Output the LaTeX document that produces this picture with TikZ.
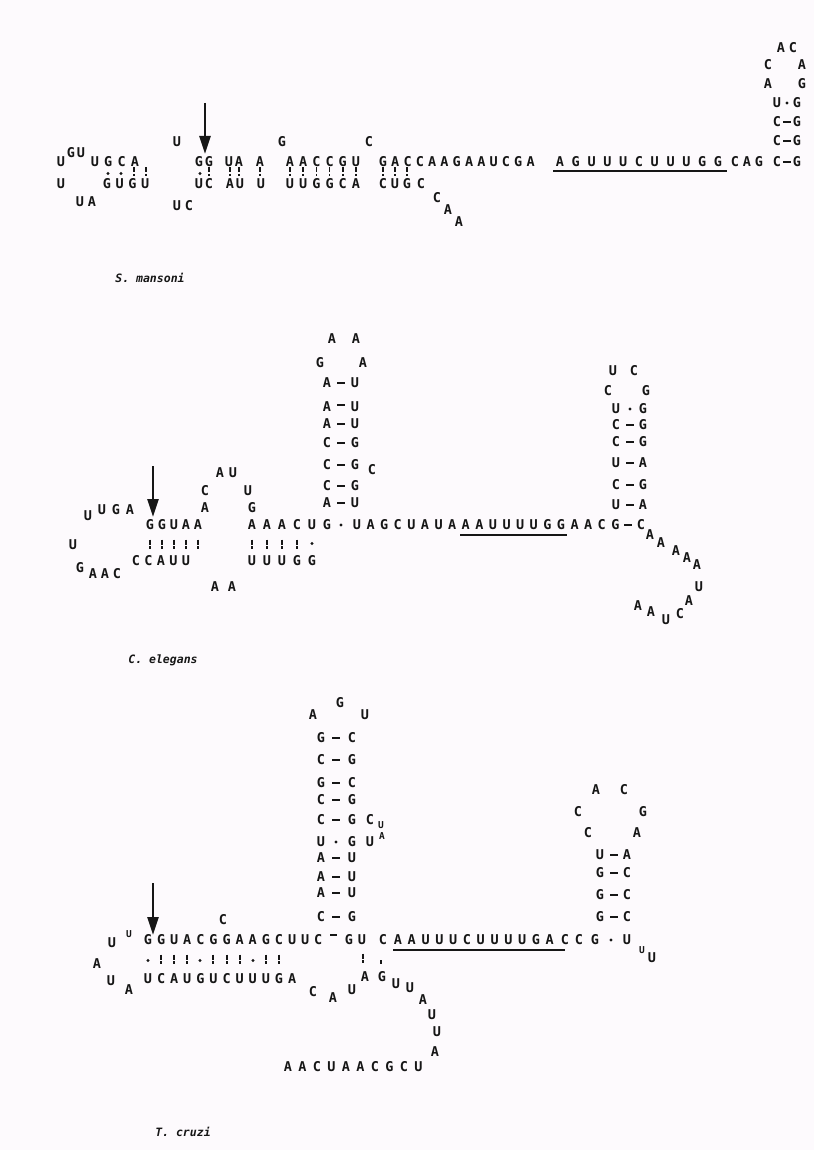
\documentclass[tikz,border=0pt]{standalone}
\usepackage{fontspec}
\newfontfamily\seqfont{DejaVu Sans Mono}
\usetikzlibrary{arrows.meta}
\definecolor{bg}{RGB}{253,250,253}
\definecolor{ink}{RGB}{22,22,22}
\newcounter{ntc}
\tikzset{
 lt/.style={font=\seqfont\bfseries\fontsize{13.5}{13.5}\selectfont, text=ink, inner sep=0pt},
 sm/.style={font=\seqfont\bfseries\fontsize{9.5}{9.5}\selectfont, text=ink, inner sep=0pt},
 lab/.style={font=\seqfont\bfseries\itshape\fontsize{11.5}{11.5}\selectfont, text=ink, inner sep=0pt},
 pairbar/.style={draw=ink, line width=1.5pt},
 pairdash/.style={draw=ink, line width=1.7pt},
 cutarrow/.style={draw=ink, line width=2.4pt, -{Triangle[length=18pt,width=11pt]}},
 uline/.style={draw=ink, line width=2pt},
}
\newcommand\nt[3]{\stepcounter{ntc}\node[lt] (b\arabic{ntc}) at (#1,#2) {#3};}
\newcommand\ns[3]{\stepcounter{ntc}\node[sm] (b\arabic{ntc}) at (#1,#2) {#3};}
\newcommand\rowat[4]{\foreach \c [count=\i from 0] in {#4} {\nt{#1+\i*#3}{#2}{\c}}}
\newcommand\pbar[2]{\draw[pairbar] (#1,#2-4.5) -- (#1,#2+0.5); \draw[pairbar] (#1,#2+2) -- (#1,#2+4.5);}
\newcommand\pdot[2]{\fill[ink] (#1,#2+1.5) circle (1.6);}
\newcommand\pdash[2]{\draw[pairdash] (#1-3.8,#2) -- (#1+3.8,#2);}
\newcommand\bars[4]{\foreach \i in {0,...,#4} {\pbar{#1+\i*#3}{#2}}}
\begin{document}
\begin{tikzpicture}[x=1pt,y=-1pt]
\fill[bg] (0,0) rectangle (814,1150);
\useasboundingbox (0,0) rectangle (814,1150);

% ================= Panel 1: S. mansoni =================
\nt{61}{162}{U} \nt{71}{153}{G} \nt{81}{153}{U}
\nt{61}{184}{U} \nt{80}{202}{U} \nt{92}{202}{A}
\rowat{95}{162}{13.3}{U,G,C,A}
\rowat{107}{184}{12.7}{G,U,G,U}
\pdot{108}{172} \pdot{121}{172} \pbar{134}{172} \pbar{146}{172}
\nt{177}{142}{U}
\nt{177}{206}{U} \nt{189}{206}{C}
\nt{199}{162}{G} \nt{209}{162}{G} \nt{229}{162}{U} \nt{239}{162}{A} \nt{260}{162}{A}
\nt{199}{184}{U} \nt{209}{184}{C} \nt{230}{184}{A} \nt{240}{184}{U} \nt{261}{184}{U}
\pdot{200}{172} \pbar{209}{172} \pbar{230}{172} \pbar{239}{172} \pbar{260}{172}
\nt{282}{142}{G}
\rowat{290}{162}{13.2}{A,A,C,C,G,U}
\rowat{290}{184}{13.2}{U,U,G,G,C,A}
\bars{290}{172}{13.2}{5}
\nt{369}{142}{C}
\rowat{383}{162}{12.3}{G,A,C,C,A,A,G,A,A,U,C,G,A}
\rowat{560}{162}{15.8}{A,G,U,U,U,C,U,U,U,G,G}
\rowat{735}{162}{12}{C,A,G}
\rowat{383}{184}{12}{C,U,G}
\nt{421}{184}{C}
\bars{383}{172}{12}{2}
\nt{437}{198}{C} \nt{448}{210}{A} \nt{459}{222}{A}
\draw[uline] (553,171) -- (727,171);
% hairpin
\nt{777}{162}{C} \pdash{787}{162} \nt{797}{162}{G}
\nt{777}{141}{C} \pdash{787}{141} \nt{797}{141}{G}
\nt{777}{122}{C} \pdash{787}{122} \nt{797}{122}{G}
\nt{777}{103}{U} \fill[ink] (787,103) circle (1.6); \nt{797}{103}{G}
\nt{768}{84}{A} \nt{802}{84}{G}
\nt{768}{65}{C} \nt{802}{65}{A}
\nt{781}{48}{A} \nt{793}{48}{C}
\coordinate (a1s) at (205,103); \coordinate (a1e) at (205,154);
\draw[cutarrow] (a1s) -- (a1e);
\node[lab] (lab1) at (150,278) {S. mansoni};

% ================= Panel 2: C. elegans =================
\coordinate (a2s) at (153,466); \coordinate (a2e) at (153,517);
\draw[cutarrow] (a2s) -- (a2e);
\nt{88}{516}{U} \nt{102}{510}{U} \nt{116}{510}{G} \nt{130}{510}{A}
\nt{73}{545}{U} \nt{80}{568}{G}
\nt{93}{574}{A} \nt{105}{574}{A} \nt{117}{574}{C}
\rowat{150}{525}{12}{G,G,U,A,A}
\rowat{136}{561}{12.5}{C,C,A,U,U}
\bars{150}{544}{12}{4}
\nt{205}{508}{A} \nt{205}{491}{C} \nt{220}{473}{A} \nt{233}{473}{U} \nt{248}{491}{U} \nt{252}{508}{G}
\rowat{252}{525}{15}{A,A,A,C,U,G}
\rowat{252}{561}{15}{U,U,U,G,G}
\bars{252}{544}{15}{3} \pdot{312}{542}
\nt{215}{587}{A} \nt{232}{587}{A}
% left hairpin
\fill[ink] (341,525) circle (1.6);
\nt{327}{503}{A} \pdash{341}{503} \nt{355}{503}{U}
\nt{327}{486}{C} \pdash{341}{486} \nt{355}{486}{G}
\nt{327}{465}{C} \pdash{341}{465} \nt{355}{465}{G} \nt{372}{470}{C}
\nt{327}{443}{C} \pdash{341}{443} \nt{355}{443}{G}
\nt{327}{424}{A} \pdash{341}{424} \nt{355}{424}{U}
\nt{327}{407}{A} \pdash{341}{405} \nt{355}{407}{U}
\nt{327}{383}{A} \pdash{341}{383} \nt{355}{383}{U}
\nt{320}{363}{G} \nt{363}{363}{A}
\nt{332}{339}{A} \nt{356}{339}{A}
\rowat{357}{525}{13.6}{U,A,G,C,U,A,U,A,A,A,U,U,U,U,G,G,A,A,C,G}
\draw[uline] (460,535) -- (567,535);
\pdash{628}{525} \nt{641}{525}{C}
% right hairpin
\nt{616}{505}{U} \pdash{630}{505} \nt{643}{505}{A}
\nt{616}{485}{C} \pdash{630}{485} \nt{643}{485}{G}
\nt{616}{463}{U} \pdash{630}{463} \nt{643}{463}{A}
\nt{616}{442}{C} \pdash{630}{442} \nt{643}{442}{G}
\nt{616}{425}{C} \pdash{630}{425} \nt{643}{425}{G}
\nt{616}{409}{U} \fill[ink] (630,409) circle (1.6); \nt{643}{409}{G}
\nt{608}{391}{C} \nt{646}{391}{G}
\nt{613}{371}{U} \nt{634}{371}{C}
% tail
\nt{650}{535}{A} \nt{661}{543}{A} \nt{676}{551}{A} \nt{687}{558}{A} \nt{697}{565}{A}
\nt{699}{587}{U} \nt{689}{601}{A} \nt{680}{614}{C} \nt{666}{620}{U} \nt{651}{612}{A} \nt{638}{606}{A}
\node[lab] (lab2) at (163,660) {C. elegans};

% ================= Panel 3: T. cruzi =================
\coordinate (a3s) at (153,883); \coordinate (a3e) at (153,935);
\draw[cutarrow] (a3s) -- (a3e);
\nt{112}{943}{U} \ns{129}{934}{U}
\nt{97}{964}{A} \nt{111}{981}{U} \nt{129}{990}{A}
\rowat{148}{940}{13.1}{G,G,U,A,C,G,G,A,A,G,C,U,U,C}
\nt{223}{920}{C}
\draw[pairdash] (330,935) -- (337,935);
\nt{349}{940}{G} \nt{362}{940}{U} \nt{383}{940}{C}
\rowat{398}{940}{13.8}{A,A,U,U,U,C,U,U,U,U,G,A}
\draw[uline] (393,950) -- (565,950);
\nt{565}{940}{C} \nt{579}{940}{C} \nt{595}{940}{G} \fill[ink] (611,940) circle (1.6); \nt{627}{940}{U}
\ns{642}{950}{U} \nt{652}{958}{U}
% marks row
\pdot{148}{959} \pbar{161}{959} \pbar{174}{959} \pbar{187}{959} \pdot{200}{959}
\pbar{213}{959} \pbar{227}{959} \pbar{240}{959} \pdot{253}{959} \pbar{266}{959} \pbar{279}{959}
\rowat{148}{979}{13.1}{U,C,A,U,G,U,C,U,U,U,G,A}
\pbar{363}{958} \draw[pairbar] (381,960) -- (381,964);
\nt{313}{992}{C} \nt{333}{998}{A} \nt{352}{990}{U} \nt{365}{977}{A} \nt{382}{977}{G}
\nt{396}{984}{U} \nt{410}{988}{U} \nt{423}{1000}{A} \nt{432}{1015}{U} \nt{437}{1032}{U} \nt{435}{1052}{A}
\rowat{288}{1067}{14.5}{A,A,C,U,A,A,C,G,C,U}
% left hairpin
\nt{321}{917}{C} \pdash{336}{917} \nt{352}{917}{G}
\nt{321}{893}{A} \pdash{336}{893} \nt{352}{893}{U}
\nt{321}{877}{A} \pdash{336}{877} \nt{352}{877}{U}
\nt{321}{858}{A} \pdash{336}{858} \nt{352}{858}{U}
\nt{321}{842}{U} \fill[ink] (336,842) circle (1.6); \nt{352}{842}{G} \nt{370}{842}{U} \ns{382}{836}{A}
\nt{321}{820}{C} \pdash{336}{820} \nt{352}{820}{G} \nt{370}{820}{C} \ns{381}{825}{U}
\nt{321}{800}{C} \pdash{336}{800} \nt{352}{800}{G}
\nt{321}{783}{G} \pdash{336}{783} \nt{352}{783}{C}
\nt{321}{760}{C} \pdash{336}{760} \nt{352}{760}{G}
\nt{321}{738}{G} \pdash{336}{738} \nt{352}{738}{C}
\nt{313}{715}{A} \nt{340}{703}{G} \nt{365}{715}{U}
% right hairpin
\nt{600}{917}{G} \pdash{614}{917} \nt{627}{917}{C}
\nt{600}{895}{G} \pdash{614}{895} \nt{627}{895}{C}
\nt{600}{873}{G} \pdash{614}{873} \nt{627}{873}{C}
\nt{600}{855}{U} \pdash{614}{855} \nt{627}{855}{A}
\nt{588}{833}{C} \nt{637}{833}{A}
\nt{578}{812}{C} \nt{643}{812}{G}
\nt{596}{790}{A} \nt{624}{790}{C}
\node[lab] (lab3) at (183,1132) {T. cruzi};
\end{tikzpicture}
\end{document}
